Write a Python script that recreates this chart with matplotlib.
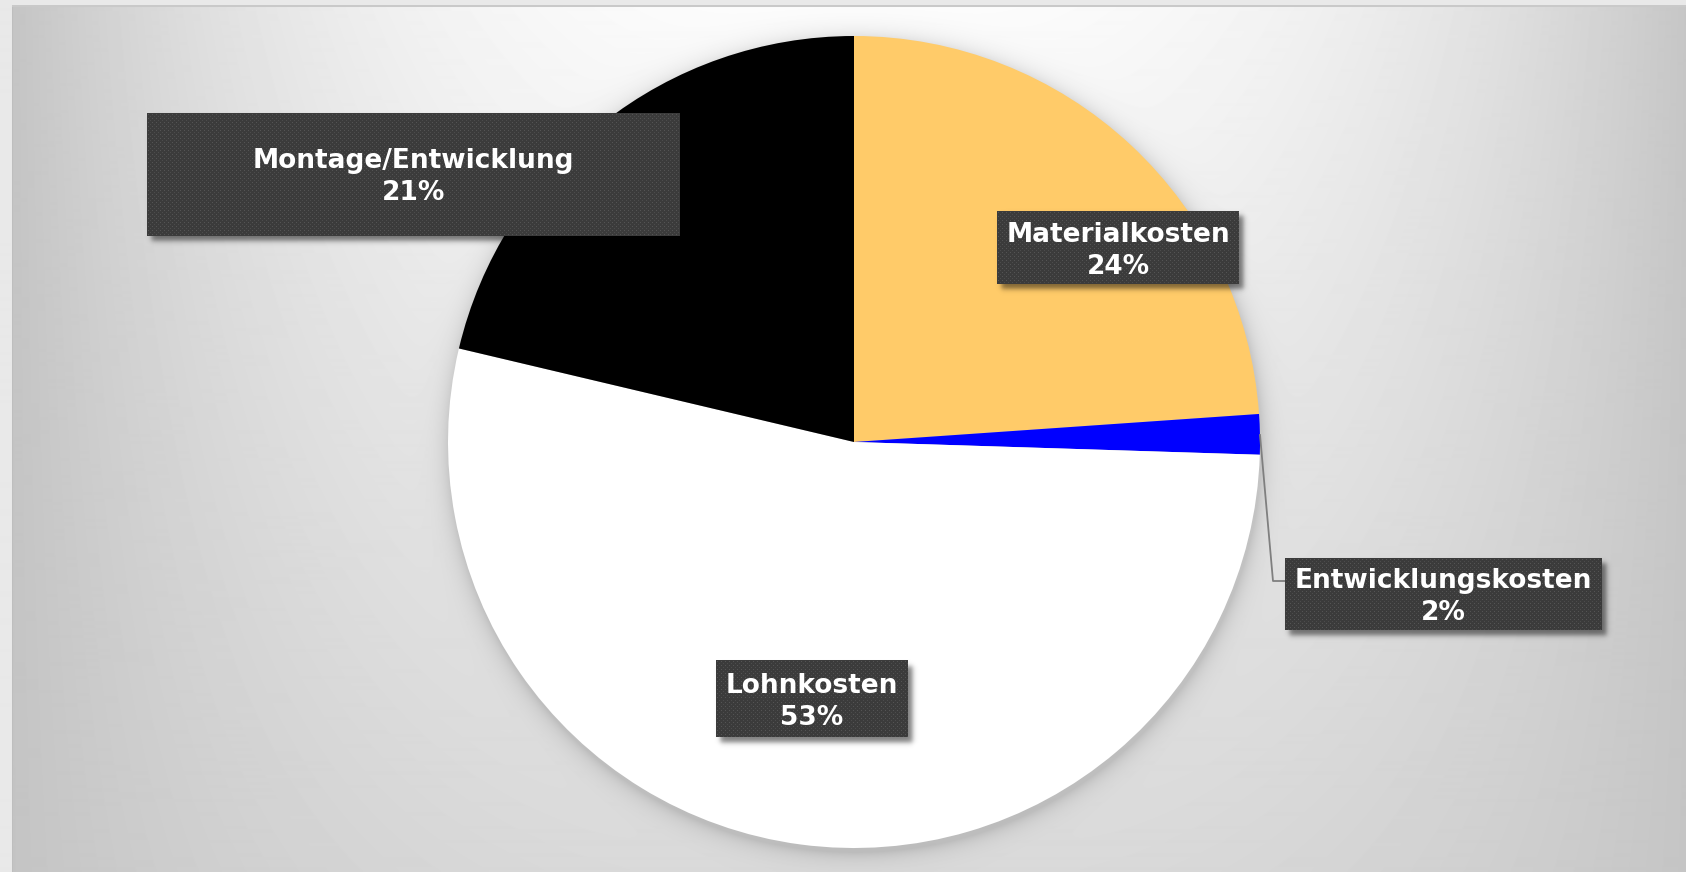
import matplotlib

matplotlib.use("Agg")
import matplotlib.pyplot as plt
import numpy as np


CATEGORIES = ["Materialkosten", "Entwicklungskosten", "Lohnkosten", "Montage/Entwicklung"]
SHARES = [23.9, 1.6, 53.2, 21.3]
SLICE_COLORS = ["#FFCB69", "#0000FF", "#FFFFFF", "#000000"]

WIDTH, HEIGHT = 1686, 872
PIE_CENTER = (854, 442)  # image pixels, y pointing down
PIE_RADIUS = 406

# label boxes in image pixels: left, top, right, bottom
LABEL_BOXES = {
    "Materialkosten": (997, 211, 1239, 284),
    "Entwicklungskosten": (1285, 558, 1602, 630),
    "Lohnkosten": (716, 661, 908, 737),
    "Montage/Entwicklung": (147, 113, 680, 236),
}
LEADER_LINE = [(1260, 435), (1273, 581), (1285, 581)]


def _background():
    yy, xx = np.mgrid[0:HEIGHT, 0:WIDTH].astype(float)
    u = np.clip(np.abs(xx - 855) / 843, 0, 1) ** 2.5
    v = np.clip((yy - 8) / (HEIGHT - 8), 0, 1)
    g = 196 + 56 * (1 - u) * (1 - 0.61 * v)

    # soft glow shadow around the pie, a bit heavier below
    cx, cy = PIE_CENTER
    d = np.hypot(xx - cx - 1, yy - cy - 4) - PIE_RADIUS
    g *= 1 - 0.14 * np.exp(-np.clip(d, 0, None) / 9)

    g[:, :12] = 233
    g[:8, :] = 233
    g[6:8, 12:] = 201
    g[8:, 12:13] = 190
    return np.clip(g / 255.0, 0, 1)


def _box_shadows():
    yy, xx = np.mgrid[0:HEIGHT, 0:WIDTH].astype(float)
    alpha = np.zeros((HEIGHT, WIDTH))
    for x0, y0, x1, y1 in LABEL_BOXES.values():
        fx = 0.5 * (np.tanh((xx - x0 - 4) / 3) - np.tanh((xx - x1 - 4) / 3))
        fy = 0.5 * (np.tanh((yy - y0 - 5) / 3) - np.tanh((yy - y1 - 5) / 3))
        alpha = np.maximum(alpha, 0.5 * fx * fy)
    rgba = np.zeros((HEIGHT, WIDTH, 4))
    rgba[..., 3] = alpha
    return rgba


def _dot_pattern(w, h):
    img = np.full((h, w, 3), 0.235)
    img[1::4, 1::4] = 0.33
    img[3::4, 3::4] = 0.30
    return img


def main():
    fig = plt.figure(figsize=(WIDTH / 100, HEIGHT / 100), dpi=100)
    ax = fig.add_axes([0, 0, 1, 1])

    ax.imshow(_background(), cmap="gray", vmin=0, vmax=1,
              extent=(0, WIDTH, 0, HEIGHT), zorder=0, interpolation="bilinear")

    cx, cy = PIE_CENTER
    ax.pie(SHARES, colors=SLICE_COLORS, startangle=90, counterclock=False,
           center=(cx, HEIGHT - cy), radius=PIE_RADIUS,
           wedgeprops=dict(linewidth=0, zorder=1), frame=True)

    xs = [p[0] for p in LEADER_LINE]
    ys = [HEIGHT - p[1] for p in LEADER_LINE]
    ax.plot(xs, ys, color="#7f7f7f", lw=1.3, zorder=2)

    ax.imshow(_box_shadows(), extent=(0, WIDTH, 0, HEIGHT), zorder=2.5,
              interpolation="bilinear")

    for name, share in zip(CATEGORIES, SHARES):
        x0, y0, x1, y1 = LABEL_BOXES[name]
        ax.imshow(_dot_pattern(x1 - x0, y1 - y0), extent=(x0, x1, HEIGHT - y1, HEIGHT - y0),
                  zorder=3, interpolation="nearest")
        # text sits a few pixels below the box centre
        ax.text((x0 + x1) / 2, HEIGHT - (y0 + y1) / 2 - 3, f"{name}\n{share:.0f}%",
                ha="center", va="center", color="white", fontsize=19,
                fontweight="bold", family="DejaVu Sans", linespacing=1.3, zorder=4)

    ax.set_xlim(0, WIDTH)
    ax.set_ylim(0, HEIGHT)
    ax.set_aspect("auto")
    ax.axis("off")
    fig.savefig("out.png", dpi=100)


if __name__ == "__main__":
    main()
